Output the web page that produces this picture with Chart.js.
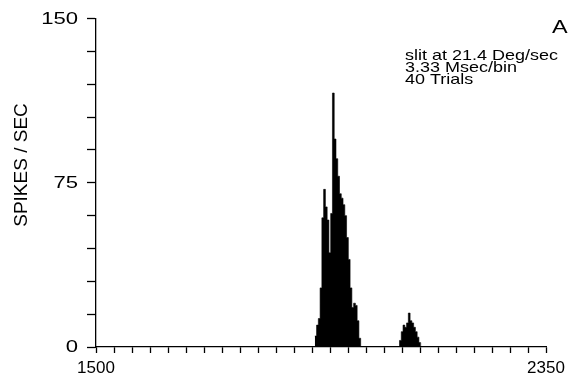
<!DOCTYPE html>
<html>
<head>
<meta charset="utf-8">
<script src="https://cdn.jsdelivr.net/npm/chart.js@4/dist/chart.umd.min.js"></script>
<style>
html,body{margin:0;padding:0;background:#fff;}
#wrap{width:570px;height:380px;position:relative;}
</style>
</head>
<body>
<div id="wrap"><canvas id="c" width="570" height="380"></canvas></div>
<script>
// ---- data ----
const binWidth = 3.333;              // ms per bin
const xRange = [1500, 2350];
const xTickLabels = [1500, 2350];
const yRange = [0, 150];
const yTickLabels = [0, 75, 150];
const burst1Start = 1913.3;          // left edge of first non-empty bin (ms)
const burst1 = [5, 10, 13, 27, 59, 72, 64, 58, 43, 61, 116, 95, 86, 78, 70, 68, 65, 60, 50, 40, 27, 18, 20, 19, 12, 4];
const burst2Start = 2073.3;
const burst2 = [3, 7, 10, 9, 11, 15.5, 12, 11, 9, 7, 4.5, 2];
const annotationLines = ["slit at 21.4 Deg/sec", "3.33 Msec/bin", "40 Trials"];
const panelLetter = "A";
const yTitle = "SPIKES / SEC";

// histogram as a stepped outline: each bin value held from its left edge
// to the next edge, closing back to zero at the right edge of each burst
const points = [];
[[burst1Start, burst1], [burst2Start, burst2]].forEach(([s, arr]) => {
  arr.forEach((v, i) => points.push({x: s + i * binWidth, y: v}));
  points.push({x: s + arr.length * binWidth, y: 0});
});

const FONT = "'Liberation Sans', Arial, Helvetica, sans-serif";

function stretchedText(ctx, text, x, y, sx, align) {
  ctx.save();
  ctx.translate(x, y);
  ctx.scale(sx, 1);
  ctx.textAlign = align || 'left';
  ctx.fillText(text, 0, 0);
  ctx.restore();
}

const textPlugin = {
  id: 'txt',
  afterDraw(chart) {
    const ctx = chart.ctx;
    ctx.save();
    ctx.fillStyle = '#000';
    ctx.textBaseline = 'alphabetic';
    ctx.font = "18px " + FONT;
    stretchedText(ctx, panelLetter, 552, 33, 1.3, 'left');
    ctx.font = "15px " + FONT;
    annotationLines.forEach((t, i) => stretchedText(ctx, t, 405, 59.5 + i * 12, 1.2, 'left'));
    const ys = chart.scales.y;
    ctx.font = "16px " + FONT;
    ctx.textBaseline = 'middle';
    yTickLabels.forEach(v => stretchedText(ctx, String(v), 78, ys.getPixelForValue(v) + 1, 1.38, 'right'));
    ctx.font = "19px " + FONT;
    ctx.save();
    ctx.translate(22, 165);
    ctx.rotate(-Math.PI / 2);
    ctx.textAlign = 'center';
    ctx.textBaseline = 'middle';
    ctx.fillText(yTitle, 0, 0);
    ctx.restore();
    ctx.restore();
  }
};

new Chart(document.getElementById('c'), {
  type: 'line',
  data: {
    datasets: [{
      data: points,
      stepped: 'before',
      fill: 'origin',
      backgroundColor: '#000',
      borderColor: '#000',
      borderWidth: 0.6,
      pointRadius: 0,
      tension: 0
    }]
  },
  options: {
    responsive: false,
    animation: false,
    plugins: { legend: {display: false}, tooltip: {enabled: false} },
    layout: { padding: {top: 17, right: 24, left: 0, bottom: 0} },
    scales: {
      x: {
        type: 'linear',
        min: xRange[0], max: xRange[1],
        offset: false,
        afterFit(s) { s.height = 33; },
        ticks: {
          stepSize: 34,
          autoSkip: false,
          maxRotation: 0,
          color: '#000',
          font: {family: FONT, size: 17},
          padding: 5,
          callback: (v) => xTickLabels.includes(v) ? String(v) : ''
        },
        afterBuildTicks(s) {
          const t = [];
          for (let v = xRange[0]; v <= xRange[1] + 0.01; v += 34) t.push({value: v});
          s.ticks = t;
        },
        grid: { drawOnChartArea: false, drawTicks: true, tickLength: 6, tickColor: '#000', tickWidth: 1.3 },
        border: { display: true, color: '#000', width: 1.3 }
      },
      y: {
        min: yRange[0], max: yRange[1],
        afterFit(s) { s.width = 96; },
        ticks: {
          stepSize: 15,
          autoSkip: false,
          color: '#000',
          font: {family: FONT, size: 16},
          padding: 9,
          callback: () => ''
        },
        grid: { drawOnChartArea: false, drawTicks: true, tickLength: 9, tickColor: '#000', tickWidth: 1.3 },
        border: { display: true, color: '#000', width: 1.3 }
      }
    }
  },
  plugins: [textPlugin]
});
</script>
</body>
</html>
